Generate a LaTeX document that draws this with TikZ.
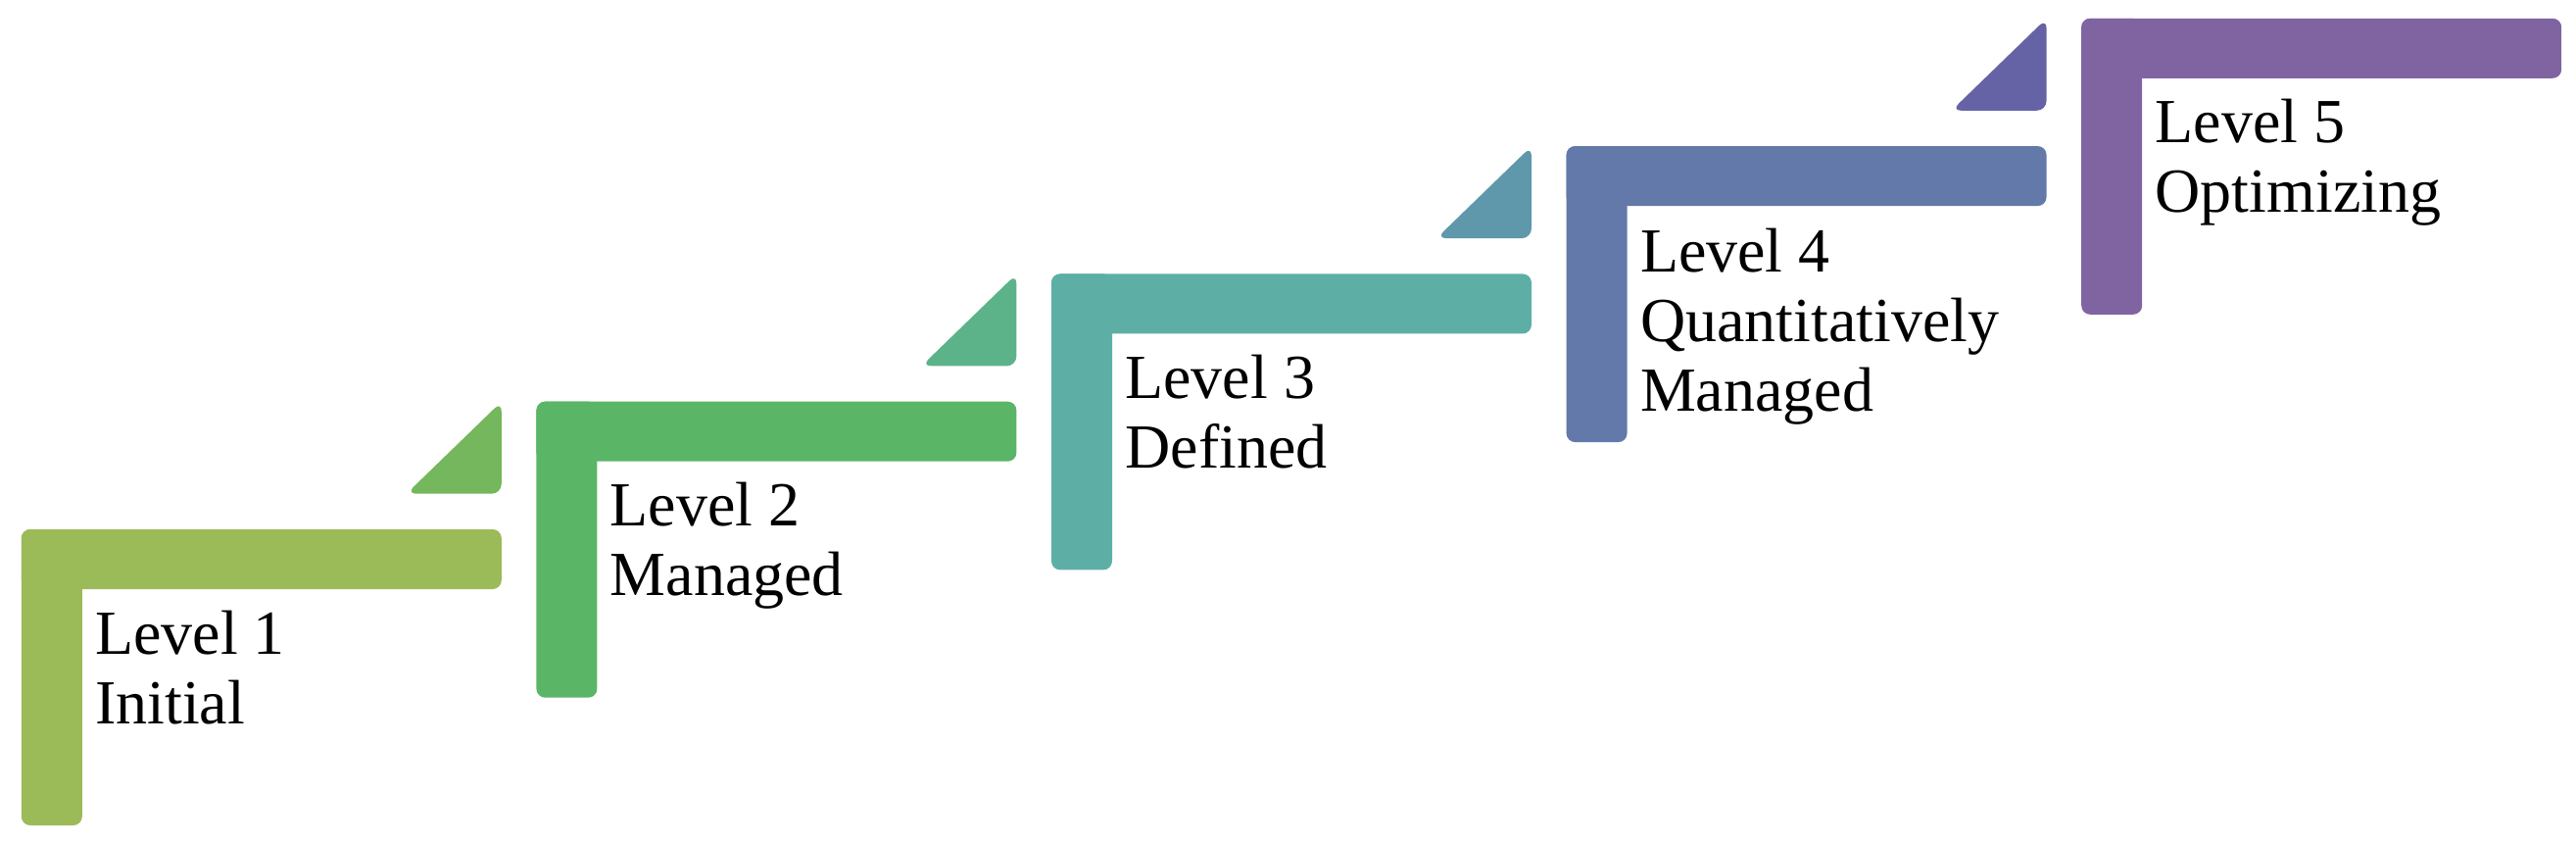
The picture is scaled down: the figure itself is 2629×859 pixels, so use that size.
\documentclass[tikz,border=0pt]{standalone}
\usepackage{fontspec}
\setmainfont{Liberation Serif}
\definecolor{sa}{HTML}{9BBB59}
\definecolor{sb}{HTML}{5BB567}
\definecolor{sc}{HTML}{5DAFA6}
\definecolor{sd}{HTML}{6279A9}
\definecolor{se}{HTML}{8064A2}
\definecolor{ta}{HTML}{75B75C}
\definecolor{tb}{HTML}{5CB389}
\definecolor{tc}{HTML}{5F98AB}
\definecolor{td}{HTML}{6563A5}
\tikzset{
  lbl/.style={anchor=base west, align=left, inner sep=0pt, font=\fontsize{64}{71}\selectfont},
}
\newcommand{\stepL}[3]{% color, left, top
  \fill[#1, rounded corners=9pt] (#2,#3) rectangle (#2+490,#3+61);
  \fill[#1, rounded corners=9pt] (#2,#3) rectangle (#2+62,#3+302);
}
\newcommand{\triL}[3]{% color, right, top
  \fill[#1, rounded corners=10pt] (#2-97,#3+94) -- (#2,#3) -- (#2,#3+94) -- cycle;
}
\begin{document}
\begin{tikzpicture}[x=1pt,y=-1pt]
\useasboundingbox (0,0) rectangle (2629,859);
\stepL{sa}{21.8}{540}
\stepL{sb}{547.4}{409.7}
\stepL{sc}{1073.0}{279.4}
\stepL{sd}{1598.6}{149.1}
\stepL{se}{2124.2}{18.8}
\triL{ta}{511.8}{409.7}
\triL{tb}{1037.4}{279.4}
\triL{tc}{1563.0}{149.1}
\triL{td}{2088.6}{18.8}
\node[lbl] (l1) at (97,738) {Level 1\\Initial};
\node[lbl] (l2) at (622.6,607.7) {Level 2\\Managed};
\node[lbl] (l3) at (1148.2,477.4) {Level 3\\Defined};
\node[lbl] (l4) at (1673.8,419.1) {Level 4\\Quantitatively\\Managed};
\node[lbl] (l5) at (2199.4,216.8) {Level 5\\Optimizing};
\end{tikzpicture}
\end{document}
